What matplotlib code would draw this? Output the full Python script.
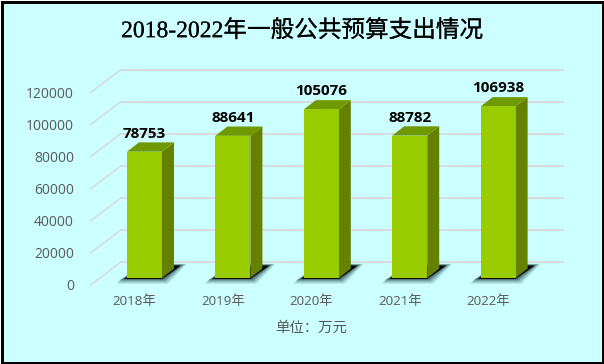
import matplotlib
matplotlib.use('Agg')
import matplotlib.pyplot as plt
import matplotlib.patheffects as pe
from matplotlib.patches import Rectangle
from matplotlib.transforms import ScaledTranslation

years = ['2018年', '2019年', '2020年', '2021年', '2022年']
values = [78753, 88641, 105076, 88782, 106938]
yticks = [0, 20000, 40000, 60000, 80000, 100000, 120000]

CJK = ['Open Sans', 'Noto Sans CJK SC', 'DejaVu Sans']
W, H = 604, 364
DPI = 100

fig = plt.figure(figsize=(W / DPI, H / DPI), dpi=DPI, facecolor='white')

# background and black frame
fig.patches.append(Rectangle((1.5 / W, 1.5 / H), 601 / W, 361 / H, transform=fig.transFigure,
                             facecolor='#CCFFFF', edgecolor='black', linewidth=2.16, zorder=-1))

# the axes is the front plane of the 3d box
ax = fig.add_axes([90.5 / W, (H - 285) / H, 442 / W, 192.5 / H])
ax.patch.set_alpha(0)
ax.set_xlim(-0.5, 4.5)
ax.set_ylim(0, 120000)
for s in ax.spines.values():
    s.set_visible(False)


def shifted(dx, dy):
    # pixel offset on top of data coords
    return ax.transData + ScaledTranslation(dx / DPI, dy / DPI, fig.dpi_scale_trans)


x_per_px = 5 / 442
y_per_px = 120000 / 192.5

# walls: back lines plus the slanted lines on the left
back = shifted(30.5, 23)
for t in yticks:
    ax.plot([-0.5, 4.5], [t, t], color='#D9D9D9', lw=1.3, transform=back, clip_on=False, zorder=1)
    ax.plot([-0.5, -0.5 + 30.5 * x_per_px], [t, t + 23 * y_per_px], color='#D9D9D9', lw=1.1,
            clip_on=False, zorder=1)

# bars sit 10px right and 7px up from the front plane
bar_tr = shifted(9.8, 7)
bar_w = 35 / 88.4
dx = 12 * x_per_px
dy = 9.3 * y_per_px

for i, v in enumerate(values):
    l, r = i - bar_w / 2, i + bar_w / 2
    # floor shadow, soft edge first
    for grow, alpha in [(5, 0.10), (4, 0.12), (3, 0.14), (2, 0.22), (1, 0.35)]:
        ax.fill([l - (6 + grow) * x_per_px, r + (1 + grow) * x_per_px,
                 r + (20 + grow) * x_per_px, l + 16 * x_per_px],
                [-(1 + grow) * y_per_px, -(1 + grow) * y_per_px,
                 (13 + grow / 4) * y_per_px, (13 + grow / 4) * y_per_px],
                color='#103838', alpha=alpha, lw=0, transform=bar_tr, clip_on=False, zorder=2)
    ax.fill([l - 3 * x_per_px, r, r + 19 * x_per_px, r + 8 * x_per_px, l + 3 * x_per_px],
            [-1 * y_per_px, -1 * y_per_px, 12.5 * y_per_px, 12.5 * y_per_px, 3 * y_per_px],
            color='black', lw=0, transform=bar_tr, clip_on=False, zorder=3)
    # side and top faces
    ax.fill([r, r + dx, r + dx, r], [0, dy, v + dy, v], color='#668000', lw=0,
            transform=bar_tr, clip_on=False, zorder=4)
    ax.fill([l, r, r + dx, l + dx], [v, v, v + dy, v + dy], color='#6F9900', lw=0,
            transform=bar_tr, clip_on=False, zorder=4)
    ax.bar(i, v, width=bar_w, color='#99CC00', transform=bar_tr, clip_on=False, zorder=5)
    ax.text(i, v, str(v), transform=shifted(9.8, 25), ha='center', va='center',
            fontsize=11, fontweight='bold', family=CJK, color='black', zorder=6)

ax.set_xticks(range(len(years)))
ax.set_xticklabels(years, family=CJK, fontsize=9.6, color='#595959')
ax.set_yticks(yticks)
ax.set_yticklabels([str(t) for t in yticks], family=CJK, fontsize=10, color='#595959')
ax.tick_params(axis='both', length=0)
ax.tick_params(axis='y', pad=12)
ax.tick_params(axis='x', pad=7)

fig.text(311 / W, 1 - 328 / H, '单位：万元', family=CJK, fontsize=10.4, color='#595959',
         ha='center', va='center')
title = fig.text(302 / W, 1 - 31 / H, '2018-2022年一般公共预算支出情况',
                 family=['Liberation Serif', 'Noto Sans CJK SC'],
                 fontsize=17, color='black', ha='center', va='center')
title.set_path_effects([pe.withStroke(linewidth=0.12, foreground='black')])

fig.savefig('out.png', dpi=DPI, facecolor=fig.get_facecolor())
